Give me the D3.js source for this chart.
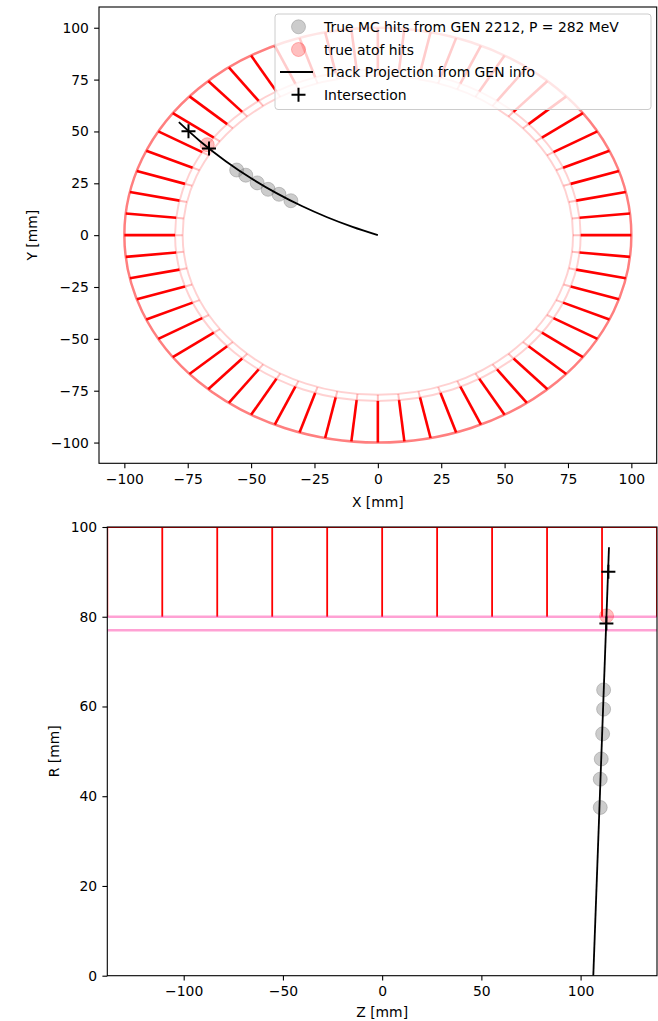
<!DOCTYPE html>
<html>
<head>
<meta charset="utf-8">
<script src="https://cdn.jsdelivr.net/npm/d3@7"></script>
<style>
  body { margin: 0; background: #fff; }
  svg { display: block; }
  text { font-family: "DejaVu Sans", sans-serif; fill: #000; }
</style>
</head>
<body>
<svg id="fig" width="658" height="1021"></svg>
<script>
// ---- ATOF geometry (mm) ----
const barInnerR = 77;
const barOuterR = 80;
const wedgeOuterR = 100;
const nSectors = 60;
const wedgeZEdges = [-138.5, -110.8, -83.1, -55.4, -27.7, 0, 27.7, 55.4, 83.1, 110.8, 138.5];

// ---- true MC hits (proton, GEN 2212) ----
const hitX = [-55.7, -52.1, -47.6, -43.3, -39.0, -34.3];
const hitY = [31.4, 28.9, 25.2, 22.1, 19.7, 16.6];
const hitZ = [111.6, 111.6, 111.1, 110.4, 109.9, 109.9];
const hitR = [63.7, 59.4, 53.9, 48.3, 43.8, 37.5];

// ---- true ATOF hit ----
const atofX = [-67.3];
const atofY = [43.6];
const atofZ = [113.1];
const atofR = [80.2];

// ---- track projection from GEN info ----
const trackX = [0, -10, -20, -30, -40, -50, -60, -70, -78.5];
const trackY = [0, 3.97, 8.62, 14.03, 20.26, 27.42, 35.65, 45.16, 54.46];
const trackZ = [106.4, 114.3];
const trackR = [0, 95.5];

// ---- track / detector intersections ----
const interX = [-74.7, -66.6];
const interY = [50.1, 41.8];
const interZ = [114.0, 113.0];
const interR = [90.0, 78.5];

// ---- tick labels ----
const xyTicks = [-100, -75, -50, -25, 0, 25, 50, 75, 100];
const zTicks = [-100, -50, 0, 50, 100];
const rTicks = [0, 20, 40, 60, 80, 100];

const legendLabels = [
  "True MC hits from GEN 2212, P = 282 MeV",
  "true atof hits",
  "Track Projection from GEN info",
  "Intersection"
];

const FS = 13.9;
const svg = d3.select("#fig");

const topBox = { l: 99, r: 656.7, t: 7, b: 463.3 };
const botBox = { l: 107.3, r: 657, t: 527, b: 975.7 };

const xs = d3.scaleLinear().domain([-110, 110]).range([topBox.l, topBox.r]);
const ys = d3.scaleLinear().domain([-110, 110]).range([topBox.b, topBox.t]);
const zs = d3.scaleLinear().domain([-138.5, 138.5]).range([botBox.l, botBox.r]);
const rs = d3.scaleLinear().domain([0, 100]).range([botBox.b, botBox.t]);

const defs = svg.append("defs");
function clip(id, b) {
  defs.append("clipPath").attr("id", id).append("rect")
    .attr("x", b.l).attr("y", b.t).attr("width", b.r - b.l).attr("height", b.b - b.t);
}
clip("clipTop", topBox);
clip("clipBot", botBox);

const fmt = d3.format("d");

function plusPath(cx, cy, s) {
  return `M${cx - s},${cy}H${cx + s}M${cx},${cy - s}V${cy + s}`;
}

// ================= X-Y view =================
const gTop = svg.append("g").attr("clip-path", "url(#clipTop)");
const sectorAngles = d3.range(nSectors).map(k => k * 360 / nSectors * Math.PI / 180);
const cx0 = xs(0), cy0 = ys(0);

// bar layer: faint rings and short separators
[barInnerR, barOuterR].forEach(r => {
  gTop.append("ellipse")
    .attr("cx", cx0).attr("cy", cy0)
    .attr("rx", xs(r) - cx0).attr("ry", cy0 - ys(r))
    .attr("fill", "none").attr("stroke", "#ff0000")
    .attr("stroke-opacity", 0.18).attr("stroke-width", 2);
});
gTop.selectAll("line.bar").data(sectorAngles).join("line")
  .attr("class", "bar")
  .attr("x1", a => xs(barInnerR * Math.cos(a))).attr("y1", a => ys(barInnerR * Math.sin(a)))
  .attr("x2", a => xs(barOuterR * Math.cos(a))).attr("y2", a => ys(barOuterR * Math.sin(a)))
  .attr("stroke", "#ff0000").attr("stroke-opacity", 0.25).attr("stroke-width", 2);

// wedge layer: outer ring and radial separators
gTop.append("ellipse")
  .attr("cx", cx0).attr("cy", cy0)
  .attr("rx", xs(wedgeOuterR) - cx0).attr("ry", cy0 - ys(wedgeOuterR))
  .attr("fill", "none").attr("stroke", "#ff0000")
  .attr("stroke-opacity", 0.5).attr("stroke-width", 2.5);
gTop.selectAll("line.wedge").data(sectorAngles).join("line")
  .attr("class", "wedge")
  .attr("x1", a => xs(barOuterR * Math.cos(a))).attr("y1", a => ys(barOuterR * Math.sin(a)))
  .attr("x2", a => xs(wedgeOuterR * Math.cos(a))).attr("y2", a => ys(wedgeOuterR * Math.sin(a)))
  .attr("stroke", "#ff0000").attr("stroke-width", 2.6);

// MC hits
gTop.selectAll("circle.hit").data(d3.range(hitX.length)).join("circle")
  .attr("class", "hit")
  .attr("cx", i => xs(hitX[i])).attr("cy", i => ys(hitY[i])).attr("r", 7)
  .attr("fill", "#808080").attr("fill-opacity", 0.4)
  .attr("stroke", "#808080").attr("stroke-opacity", 0.4);

// ATOF hit
gTop.selectAll("circle.atof").data(d3.range(atofX.length)).join("circle")
  .attr("class", "atof")
  .attr("cx", i => xs(atofX[i])).attr("cy", i => ys(atofY[i])).attr("r", 7)
  .attr("fill", "#ff0000").attr("fill-opacity", 0.25)
  .attr("stroke", "#ff0000").attr("stroke-opacity", 0.25);

// track
gTop.append("path")
  .datum(d3.range(trackX.length))
  .attr("d", d3.line().x(i => xs(trackX[i])).y(i => ys(trackY[i])).curve(d3.curveCatmullRom))
  .attr("fill", "none").attr("stroke", "#000").attr("stroke-width", 1.8);

// intersections
gTop.selectAll("path.inter").data(d3.range(interX.length)).join("path")
  .attr("class", "inter")
  .attr("d", i => plusPath(xs(interX[i]), ys(interY[i]), 7))
  .attr("stroke", "#000").attr("stroke-width", 2).attr("fill", "none");

// axes
const axTopX = svg.append("g").attr("transform", `translate(0,${topBox.b})`)
  .call(d3.axisBottom(xs).tickValues(xyTicks).tickFormat(fmt).tickSize(4.9).tickPadding(5.5));
const axTopY = svg.append("g").attr("transform", `translate(${topBox.l},0)`)
  .call(d3.axisLeft(ys).tickValues(xyTicks).tickFormat(fmt).tickSize(4.9).tickPadding(5.2));

// legend
const lg = svg.append("g");
lg.append("rect")
  .attr("x", 275).attr("y", 14).attr("width", 376).attr("height", 95.5)
  .attr("rx", 3).attr("fill", "#fff").attr("fill-opacity", 0.8)
  .attr("stroke", "#cccccc").attr("stroke-width", 1);
const rowY = [26.8, 49.5, 72, 94.8];
lg.append("circle").attr("cx", 298.5).attr("cy", rowY[0]).attr("r", 7)
  .attr("fill", "#808080").attr("fill-opacity", 0.4)
  .attr("stroke", "#808080").attr("stroke-opacity", 0.4);
lg.append("circle").attr("cx", 298.5).attr("cy", rowY[1]).attr("r", 7)
  .attr("fill", "#ff0000").attr("fill-opacity", 0.25)
  .attr("stroke", "#ff0000").attr("stroke-opacity", 0.25);
lg.append("line").attr("x1", 280).attr("x2", 313).attr("y1", rowY[2]).attr("y2", rowY[2])
  .attr("stroke", "#000").attr("stroke-width", 1.8);
lg.append("path").attr("d", plusPath(298.5, rowY[3], 7))
  .attr("stroke", "#000").attr("stroke-width", 2);
lg.selectAll("text").data(legendLabels).join("text")
  .attr("x", 324).attr("y", (d, i) => rowY[i] + 5)
  .attr("font-size", FS).text(d => d);

// ================= R-Z view =================
const gBot = svg.append("g").attr("clip-path", "url(#clipBot)");

// wedge boundaries along z, and the outer wedge surface
gBot.selectAll("line.wedge").data(wedgeZEdges).join("line")
  .attr("class", "wedge")
  .attr("x1", z => zs(z)).attr("x2", z => zs(z))
  .attr("y1", rs(barOuterR)).attr("y2", rs(wedgeOuterR))
  .attr("stroke", "#ff0000").attr("stroke-width", 1.8);
gBot.append("line")
  .attr("x1", zs(wedgeZEdges[0])).attr("x2", zs(wedgeZEdges[wedgeZEdges.length - 1]))
  .attr("y1", rs(wedgeOuterR)).attr("y2", rs(wedgeOuterR))
  .attr("stroke", "#ff0000").attr("stroke-width", 1.8);

// bar layer boundaries
[barOuterR, barInnerR].forEach(r => {
  gBot.append("line")
    .attr("x1", botBox.l).attr("x2", botBox.r)
    .attr("y1", rs(r)).attr("y2", rs(r))
    .attr("stroke", "#ff1493").attr("stroke-opacity", 0.4).attr("stroke-width", 2.6);
});

// MC hits
gBot.selectAll("circle.hit").data(d3.range(hitZ.length)).join("circle")
  .attr("class", "hit")
  .attr("cx", i => zs(hitZ[i])).attr("cy", i => rs(hitR[i])).attr("r", 7)
  .attr("fill", "#808080").attr("fill-opacity", 0.4)
  .attr("stroke", "#808080").attr("stroke-opacity", 0.4);

// ATOF hit
gBot.selectAll("circle.atof").data(d3.range(atofZ.length)).join("circle")
  .attr("class", "atof")
  .attr("cx", i => zs(atofZ[i])).attr("cy", i => rs(atofR[i])).attr("r", 7)
  .attr("fill", "#ff0000").attr("fill-opacity", 0.25)
  .attr("stroke", "#ff0000").attr("stroke-opacity", 0.25);

// track
gBot.append("path")
  .datum(d3.range(trackZ.length))
  .attr("d", d3.line().x(i => zs(trackZ[i])).y(i => rs(trackR[i])))
  .attr("fill", "none").attr("stroke", "#000").attr("stroke-width", 1.8);

// intersections
gBot.selectAll("path.inter").data(d3.range(interZ.length)).join("path")
  .attr("class", "inter")
  .attr("d", i => plusPath(zs(interZ[i]), rs(interR[i]), 7))
  .attr("stroke", "#000").attr("stroke-width", 2).attr("fill", "none");

const axBotX = svg.append("g").attr("transform", `translate(0,${botBox.b})`)
  .call(d3.axisBottom(zs).tickValues(zTicks).tickFormat(fmt).tickSize(4.9).tickPadding(5.5));
const axBotY = svg.append("g").attr("transform", `translate(${botBox.l},0)`)
  .call(d3.axisLeft(rs).tickValues(rTicks).tickFormat(fmt).tickSize(4.9).tickPadding(5.2));

// axis styling
[axTopX, axTopY, axBotX, axBotY].forEach(ax => {
  ax.select(".domain").remove();
  ax.selectAll(".tick line").attr("stroke", "#000").attr("stroke-width", 1.1);
  ax.selectAll(".tick text").attr("font-size", FS).attr("font-family", "DejaVu Sans").attr("fill", "#000");
});

// spines
[topBox, botBox].forEach(b => {
  svg.append("rect")
    .attr("x", b.l).attr("y", b.t).attr("width", b.r - b.l).attr("height", b.b - b.t)
    .attr("fill", "none").attr("stroke", "#000").attr("stroke-width", 1.1);
});

// axis titles
svg.append("text").attr("x", (topBox.l + topBox.r) / 2).attr("y", 507)
  .attr("text-anchor", "middle").attr("font-size", FS).text("X [mm]");
svg.append("text").attr("transform", `translate(32,${(topBox.t + topBox.b) / 2}) rotate(-90)`)
  .attr("text-anchor", "middle").attr("dominant-baseline", "central").attr("font-size", FS).text("Y [mm]");
svg.append("text").attr("x", (botBox.l + botBox.r) / 2).attr("y", 1017)
  .attr("text-anchor", "middle").attr("font-size", FS).text("Z [mm]");
svg.append("text").attr("transform", `translate(53.5,${(botBox.t + botBox.b) / 2}) rotate(-90)`)
  .attr("text-anchor", "middle").attr("dominant-baseline", "central").attr("font-size", FS).text("R [mm]");
</script>
</body>
</html>
